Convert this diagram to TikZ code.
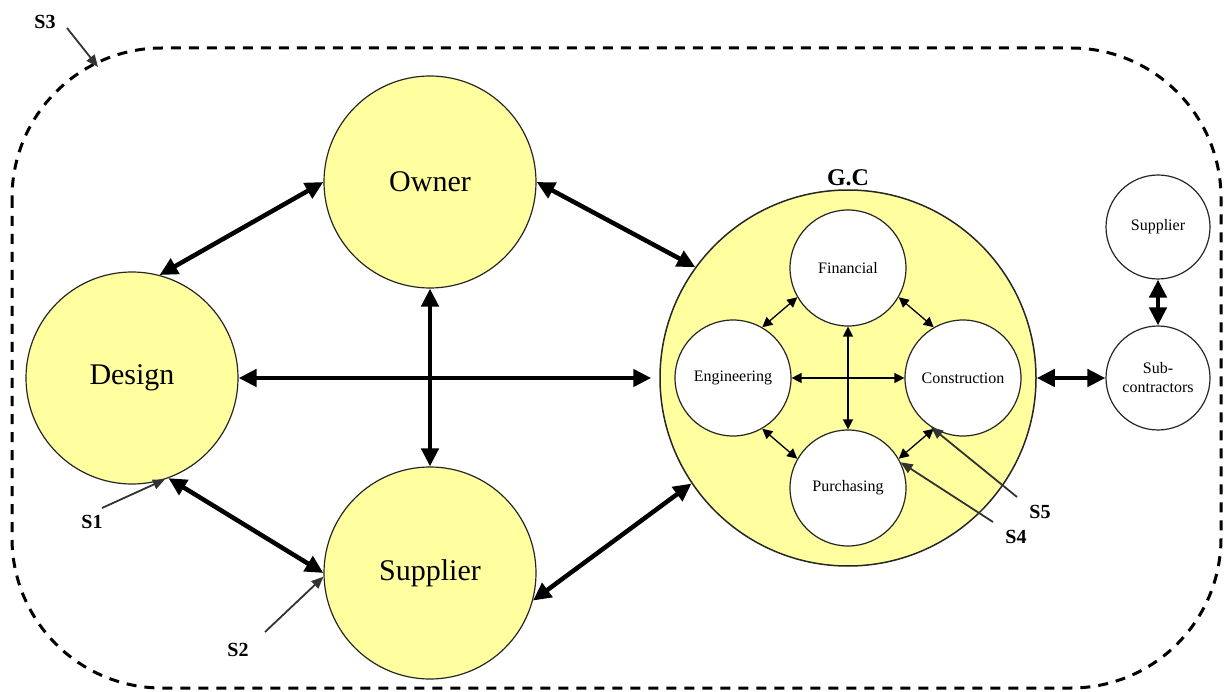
\documentclass[tikz,border=0pt]{standalone}
\usepackage{fontspec}
\setmainfont{Liberation Serif}
\usetikzlibrary{arrows.meta}
\definecolor{gcyellow}{RGB}{255,255,160}
\definecolor{callgray}{RGB}{50,50,50}
\tikzset{
  bigcirc/.style={circle,draw=black!85,line width=1.2pt,fill=gcyellow,minimum size=212pt,inner sep=0pt,font=\fontsize{30}{32}\selectfont},
  gccirc/.style={circle,draw=black!85,line width=1.5pt,fill=gcyellow,minimum size=376pt,inner sep=0pt},
  smallcirc/.style={circle,draw=black!85,line width=1.2pt,fill=white,minimum size=116pt,inner sep=0pt,font=\fontsize{16}{18}\selectfont},
  tinycirc/.style={circle,draw=black!85,line width=1.2pt,fill=white,minimum size=104pt,inner sep=0pt,align=center,font=\fontsize{16}{19}\selectfont},
  bigarrow/.style={line width=4.5pt,{Triangle[length=18pt,width=17pt]}-{Triangle[length=18pt,width=17pt]}},
  thinarrow/.style={line width=1.3pt,{Triangle[length=10pt,width=10pt]}-{Triangle[length=10pt,width=10pt]}},
  callout/.style={line width=1.8pt,draw=callgray,-{Triangle[length=12pt,width=10pt]}},
  slabel/.style={font=\bfseries\fontsize{20}{22}\selectfont,inner sep=1pt},
  border/.style={line width=3pt,dash pattern=on 10pt off 8pt,rounded corners=150pt}
}
\begin{document}
\begin{tikzpicture}[x=1pt,y=-1pt]
\useasboundingbox (0,0) rectangle (1226,692);
\draw[border] (12,48) rectangle (1221,688);

\node[bigcirc] (owner) at (430,182) {Owner};
\node[bigcirc] (design) at (132,378) {Design};
\node[bigcirc] (supplier) at (430,573) {Supplier};
\node[gccirc] (gc) at (848,378) {};
\node[font=\bfseries\fontsize{24}{26}\selectfont] (gclabel) at (848,178) {G.C};

\node[smallcirc] (fin) at (848,268) {Financial};
\node[smallcirc] (eng) at (733,378) {Engineering};
\node[smallcirc] (cons) at (963,378) {Construction};
\node[smallcirc] (purch) at (848,488) {Purchasing};

\node[tinycirc] (ssup) at (1158,227) {Supplier};
\node[tinycirc] (sub) at (1158,378) {Sub-\\contractors};

% main arrows
\draw[bigarrow] (owner.180) -- (design.75);
\draw[bigarrow] (owner.0) -- (gc.144);
\draw[bigarrow] (owner.south) -- (supplier.north);
\draw[bigarrow] (design.east) -- ([xshift=-8pt]gc.west);
\draw[bigarrow] (design.-70) -- (supplier.180);
\draw[bigarrow] (supplier.-15) -- (gc.-146);
\draw[bigarrow] (gc.east) -- (sub.west);
\draw[bigarrow] (ssup.south) -- (sub.north);

% inner arrows
\draw[thinarrow] (fin.210) -- (eng.60);
\draw[thinarrow] (fin.-30) -- (cons.120);
\draw[thinarrow] (eng.-60) -- (purch.150);
\draw[thinarrow] (cons.-120) -- (purch.30);
\draw[thinarrow] (fin.south) -- (purch.north);
\draw[thinarrow] (eng.east) -- (cons.west);

% callouts
\node[slabel] (s3) at (45,22) {S3};
\coordinate (s3end) at (98,67);
\draw[callout] (67,28) -- (s3end);
\node[slabel] (s1) at (92,522) {S1};
\draw[callout] (102,508) -- (design.-72);
\node[slabel] (s2) at (238,650) {S2};
\draw[callout] (265,632) -- (supplier.182);
\node[slabel] (s4) at (1016,537) {S4};
\draw[callout] (993,522) -- (purch.26);
\node[slabel] (s5) at (1040,512) {S5};
\draw[callout] (1017,497) -- (cons.-123);
\end{tikzpicture}
\end{document}
